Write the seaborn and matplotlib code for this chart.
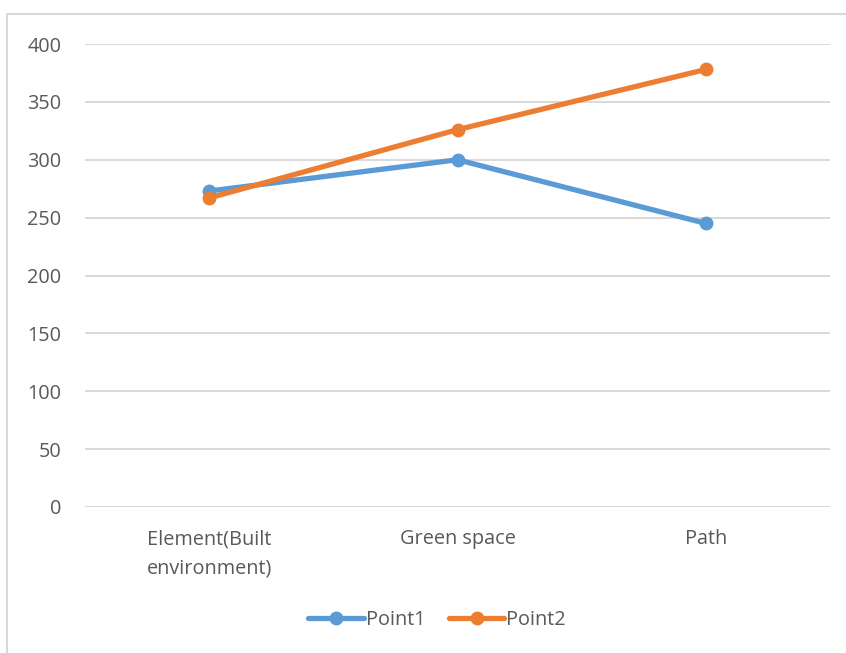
import matplotlib
matplotlib.use("Agg")
import matplotlib.pyplot as plt
from matplotlib.lines import Line2D
from matplotlib.patches import Rectangle
import pandas as pd
import seaborn as sns

categories = ["Element(Built\nenvironment)", "Green space", "Path"]
point1 = [273, 300, 245]
point2 = [267, 326, 378]
series_names = ["Point1", "Point2"]
colors = ["#5B9BD5", "#ED7D31"]
y_ticks = [0, 50, 100, 150, 200, 250, 300, 350, 400]

df = pd.DataFrame({
    "category": categories * 2,
    "x": list(range(len(categories))) * 2,
    "value": point1 + point2,
    "series": [series_names[0]] * 3 + [series_names[1]] * 3,
})

sns.set_theme(style="white")
plt.rcParams["font.family"] = ["Open Sans", "DejaVu Sans"]
text_color = "#595959"

fig = plt.figure(figsize=(8.46, 6.53), dpi=100)
ax = fig.add_axes([85 / 846, 1 - 507 / 653, 745 / 846, 463 / 653])

# outer chart frame
fig.patches.append(Rectangle((7 / 846, -0.05), 1.1, 1 - 14 / 653 + 0.05,
                             transform=fig.transFigure, fill=False,
                             edgecolor="#D9D9D9", linewidth=1.5, zorder=0))

sns.lineplot(data=df, x="x", y="value", hue="series", palette=colors,
             marker="o", markersize=10, markeredgewidth=0, linewidth=3.8,
             ax=ax, legend=False, zorder=3)

ax.set_xlim(-0.5, 2.5)
ax.set_ylim(0, 400)
ax.set_yticks(y_ticks)
ax.set_xticks(range(len(categories)))
ax.set_xticklabels(categories, fontsize=14.3, color=text_color, linespacing=1.6)
ax.set_yticklabels([str(v) for v in y_ticks], fontsize=14.3, color=text_color)
ax.tick_params(axis="both", length=0)
ax.tick_params(axis="x", pad=16)
ax.tick_params(axis="y", pad=17)
ax.set_xlabel("")
ax.set_ylabel("")
ax.grid(axis="y", color="#D9D9D9", linewidth=1.4)
ax.set_axisbelow(True)
for s in ax.spines.values():
    s.set_visible(False)
ax.axhline(0, color="#D9D9D9", linewidth=1.4, zorder=1)

handles = [Line2D([0], [0], color=c, linewidth=3.8, marker="o", markersize=10,
                  markeredgewidth=0) for c in colors]
leg = fig.legend(handles, series_names, loc="center", bbox_to_anchor=(437 / 846, 1 - 620 / 653),
                 ncol=2, frameon=False, fontsize=14.3, handlelength=2.8,
                 handletextpad=0.1, columnspacing=1.2)
for t in leg.get_texts():
    t.set_color(text_color)

fig.savefig("out.png", dpi=100, facecolor="white")
